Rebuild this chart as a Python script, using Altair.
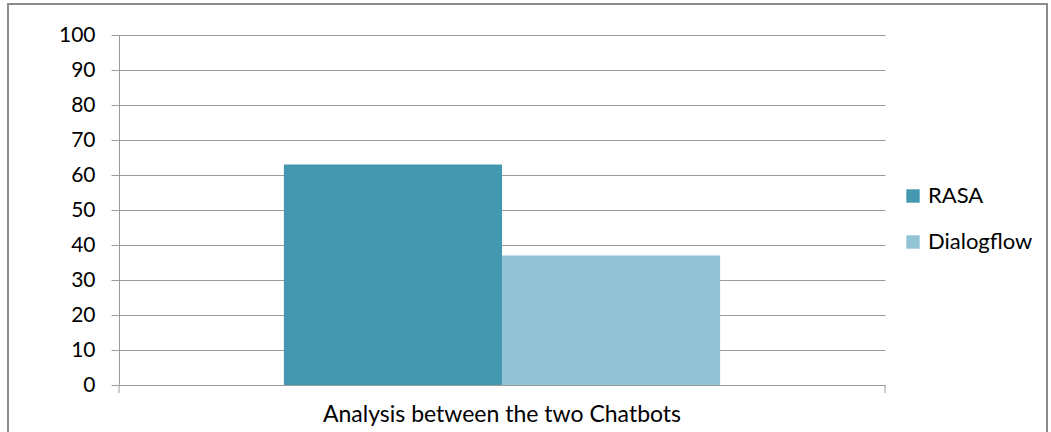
import altair as alt
import pandas as pd

categories = ["Analysis between the two Chatbots"]
series = ["RASA", "Dialogflow"]
values = [63, 37]
colors = ["#4398B0", "#93C4D6"]
y_ticks = [0, 10, 20, 30, 40, 50, 60, 70, 80, 90, 100]

df = pd.DataFrame({
    "category": [categories[0]] * len(series),
    "series": series,
    "value": values,
})

FONT = "Lato"
GRID = "#9b9b9b"
W, H = 766, 350

bars = alt.Chart(df).mark_bar().encode(
    x=alt.X("category:N", title=None,
            scale=alt.Scale(paddingInner=0, paddingOuter=0.378),
            axis=alt.Axis(labelAngle=0, ticks=False, domain=True, domainColor=GRID,
                          labelFontSize=23, labelFont=FONT, labelColor="#000000",
                          labelPadding=18, labelLimit=0)),
    xOffset=alt.XOffset("series:N", sort=series, scale=alt.Scale(paddingInner=0, paddingOuter=0)),
    y=alt.Y("value:Q", title=None,
            scale=alt.Scale(domain=[0, 100]),
            axis=alt.Axis(values=y_ticks, grid=True, gridColor=GRID, domainColor=GRID,
                          tickColor=GRID, tickSize=8, labelFontSize=21, labelFont=FONT,
                          labelColor="#000000", labelPadding=16)),
    color=alt.Color("series:N", sort=series,
                    scale=alt.Scale(domain=series, range=colors),
                    legend=alt.Legend(title=None, orient="none", legendX=783, legendY=150,
                                      symbolType="square", symbolSize=180, symbolStrokeWidth=0,
                                      labelFontSize=22, labelFont=FONT, labelColor="#000000",
                                      rowPadding=24, labelOffset=4)),
)

edge_ticks = alt.Chart(pd.DataFrame({"edge": [0, 1]})).mark_rule(color=GRID, strokeWidth=1).encode(
    x=alt.X("edge:Q", scale=alt.Scale(domain=[0, 1]), axis=None),
    y=alt.value(H), y2=alt.value(H + 8),
)

frame = alt.Chart(pd.DataFrame({"a": [0]})).mark_rect(
    fill=None, stroke="#8c8c8c", strokeWidth=2
).encode(
    x=alt.value(-111), x2=alt.value(928), y=alt.value(-31), y2=alt.value(420),
)

chart = alt.layer(frame, bars, edge_ticks).resolve_scale(x="independent").properties(
    width=W, height=H,
    autosize=alt.AutoSizeParams(type="none"),
    padding={"left": 119, "top": 35, "right": 166, "bottom": 47},
    background="#ffffff",
).configure_view(stroke=None)

chart.save("out.html", embed_options={"renderer": "svg", "actions": False})
